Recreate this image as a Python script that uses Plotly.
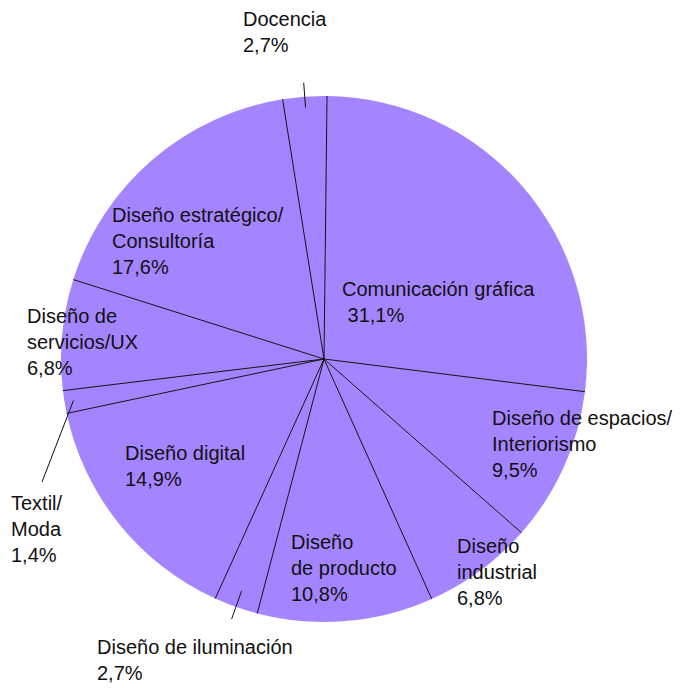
import math
import plotly.graph_objects as go

# ---- data (clockwise from 12 o'clock) ----
categories = [
    "Comunicación gráfica", "Diseño de espacios/Interiorismo", "Diseño industrial",
    "Diseño de producto", "Diseño de iluminación", "Diseño digital", "Textil/Moda",
    "Diseño de servicios/UX", "Diseño estratégico/Consultoría", "Docencia",
]
# slice sizes as drawn in the picture (percent of the circle)
slice_sizes = [26.8, 9.5, 6.8, 10.8, 2.7, 14.9, 1.4, 6.8, 17.6, 2.7]
# percentages printed on the chart
pct_labels = ["31,1%", "9,5%", "6,8%", "10,8%", "2,7%", "14,9%", "1,4%", "6,8%", "17,6%", "2,7%"]
# how each category name is broken over lines in the picture
name_lines = [
    "Comunicación gráfica<br>\u00a0", "Diseño de espacios/<br>Interiorismo<br>", "Diseño<br>industrial<br>",
    "Diseño<br>de producto<br>", "Diseño de iluminación<br>", "Diseño digital<br>", "Textil/<br>Moda<br>",
    "Diseño de<br>servicios/UX<br>", "Diseño estratégico/<br>Consultoría<br>", "Docencia<br>",
]

# ---- layout / style ----
OFF = 8                      # page body margin
W, H = 686 - OFF, 688 - OFF
# plot area in page pixels: x 61..587, y 96..622
L, T = 61 - OFF, 96 - OFF
R, B = W - (587 - OFF), H - (622 - OFF)
PW, PH = W - L - R, H - T - B
ROT = 0.66
FILL = "#a585ff"

# label anchor positions (page px: left edge, vertical middle)
label_pos = [(342, 303), (492, 445), (457, 573), (291, 569), (97, 661),
             (125, 467), (11, 530), (27, 343), (112, 242), (243, 33)]


def px_to_paper(px, py):
    return (px - OFF - L) / PW, (H - B - (py - OFF)) / PH


def polar_paper(r_px, ang_deg):
    a = math.radians(ang_deg)
    return 0.5 + r_px * math.sin(a) / PW, 0.5 + r_px * math.cos(a) / PH


fig = go.Figure(go.Pie(
    labels=categories, values=slice_sizes, sort=False, direction="clockwise",
    rotation=ROT, textinfo="none", hoverinfo="skip", showlegend=False,
    marker=dict(colors=[FILL] * len(categories), line=dict(width=0)),
    domain=dict(x=[0, 1], y=[0, 1]),
))

total = sum(slice_sizes)
radius = PW / 2.0
shapes = []
bounds = []
acc = ROT
for v in slice_sizes:
    bounds.append(acc)
    acc += v / total * 360.0
mids = [b + v / total * 180.0 for b, v in zip(bounds, slice_sizes)]

for b in bounds:
    x1, y1 = polar_paper(radius, b)
    shapes.append(dict(type="line", xref="paper", yref="paper", x0=0.5, y0=0.5,
                       x1=x1, y1=y1, line=dict(color="#111111", width=1)))

# leader lines
leaders = {9: (252, 277), 4: (246, 276)}
for i, (r0, r1) in leaders.items():
    x0, y0 = polar_paper(r0, mids[i])
    x1, y1 = polar_paper(r1, mids[i])
    shapes.append(dict(type="line", xref="paper", yref="paper", x0=x0, y0=y0,
                       x1=x1, y1=y1, line=dict(color="#111111", width=1)))
x0, y0 = polar_paper(254, mids[6])
x1, y1 = px_to_paper(42, 482)
shapes.append(dict(type="line", xref="paper", yref="paper", x0=x0, y0=y0,
                   x1=x1, y1=y1, line=dict(color="#111111", width=1)))

annotations = []
for i in range(len(categories)):
    ax, ay = px_to_paper(label_pos[i][0] - 2, label_pos[i][1] - 1)
    annotations.append(dict(
        text=name_lines[i] + pct_labels[i], xref="paper", yref="paper",
        x=ax, y=ay, xanchor="left", yanchor="middle", align="left",
        showarrow=False, font=dict(family="Liberation Sans, Arial, sans-serif", size=20, color="#111111"),
    ))

fig.update_layout(
    width=W, height=H, margin=dict(l=L, r=R, t=T, b=B, autoexpand=False),
    paper_bgcolor="white", plot_bgcolor="white",
    shapes=shapes, annotations=annotations,
)

fig.write_html("out.html")
